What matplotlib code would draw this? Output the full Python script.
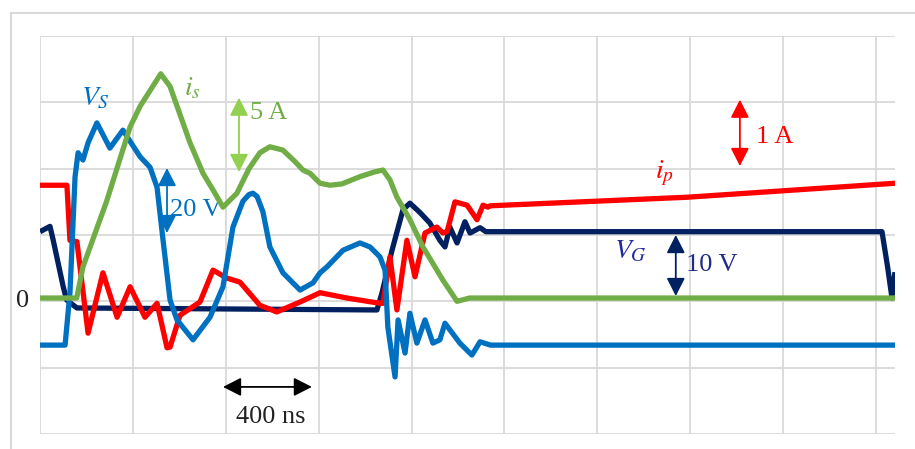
import matplotlib.pyplot as plt
from matplotlib.lines import Line2D

# time in ns, amplitude in screen divisions (0 = zero line)
t_is = [0, 108, 158, 185, 287, 388, 431, 520, 560, 646, 702, 750, 788, 848,
        900, 947, 990, 1046, 1100, 1132, 1163, 1206, 1249, 1300, 1378, 1440,
        1477, 1507, 1537, 1593, 1649, 1735, 1796, 1850, 3682]
v_is = [0.05, 0.05, 0.05, 0.52, 1.51, 2.63, 2.94, 3.43, 3.24, 2.39, 1.93,
        1.65, 1.42, 1.63, 2.00, 2.24, 2.33, 2.28, 2.10, 1.98, 1.93, 1.78,
        1.75, 1.77, 1.88, 1.95, 1.98, 1.83, 1.57, 1.23, 0.82, 0.32, 0.0,
        0.05, 0.05]

t_ip = [0, 116, 129, 159, 207, 271, 332, 388, 452, 504, 547, 560, 603, 689,
        745, 805, 861, 947, 1020, 1120, 1206, 1322, 1464, 1477, 1507, 1537,
        1580, 1615, 1658, 1709, 1735, 1753, 1787, 1839, 1882, 1908, 1929,
        1938, 2790, 3682]
v_ip = [1.75, 1.75, 0.92, 0.90, -0.48, 0.43, -0.24, 0.22, -0.24, -0.03,
        -0.70, -0.69, -0.21, -0.01, 0.47, 0.35, 0.29, -0.06, -0.16, -0.01,
        0.13, 0.05, -0.03, -0.03, 0.67, -0.13, 0.92, 0.37, 1.03, 1.12, 1.03,
        1.05, 1.50, 1.45, 1.23, 1.45, 1.42, 1.44, 1.57, 1.78]

t_vg = [0, 43, 57, 100, 115, 159, 1451, 1473, 1516, 1563, 1593, 1636, 1679,
        1722, 1744, 1765, 1796, 1830, 1852, 1895, 1920, 3626, 3651, 3669,
        3682]
v_vg = [1.05, 1.13, 0.92, 0.22, 0.02, -0.10, -0.13, 0.13, 0.77, 1.38,
        1.48, 1.34, 1.18, 0.92, 0.82, 1.12, 0.88, 1.20, 1.03, 1.11, 1.05,
        1.05, 0.50, 0.05, 0.44]

t_vs = [0, 108, 129, 151, 164, 185, 207, 245, 301, 357, 431, 474, 504, 530,
        560, 590, 659, 732, 788, 831, 874, 900, 917, 935, 960, 990, 1046,
        1120, 1176, 1206, 1236, 1305, 1378, 1421, 1464, 1486, 1498, 1529,
        1542, 1572, 1593, 1623, 1658, 1692, 1722, 1744, 1808, 1860, 1895,
        1940, 3682]
v_vs = [-0.66, -0.66, 0.13, 1.88, 2.24, 2.13, 2.39, 2.69, 2.31, 2.58, 2.18,
        2.02, 1.72, 0.92, 0.02, -0.28, -0.58, -0.24, 0.22, 1.12, 1.51, 1.61,
        1.63, 1.58, 1.35, 0.82, 0.43, 0.17, 0.28, 0.43, 0.52, 0.77, 0.88,
        0.82, 0.67, 0.47, -0.39, -1.14, -0.28, -0.78, -0.18, -0.63, -0.28,
        -0.63, -0.58, -0.33, -0.63, -0.81, -0.61, -0.66, -0.66]

GREEN = '#70ad47'
RED = '#ff0000'
BLUE = '#0070c0'
NAVY = '#002060'

plt.rcParams['mathtext.fontset'] = 'stix'
serif = 'Liberation Serif'

fig = plt.figure(figsize=(9.15, 4.49), dpi=100)
# outer frame (top and left edges visible)
fig.add_artist(Line2D([11 / 915, 1], [1 - 13 / 449] * 2, color='#d9d9d9', lw=1.5))
fig.add_artist(Line2D([11 / 915] * 2, [0, 1 - 13 / 449], color='#d9d9d9', lw=1.5))

ax = fig.add_axes([40 / 915, 1 - 434 / 449, 855 / 915, 398 / 449])
ax.set_xlim(0, 3682)
ax.set_ylim(-2, 4)
ax.set_xticks(range(0, 3601, 400))
ax.set_yticks(range(-2, 5))
ax.tick_params(length=0, labelbottom=False, labelleft=False)
ax.grid(True, color='#d9d9d9', lw=1.3)
ax.set_axisbelow(True)
for s in ax.spines.values():
    s.set_visible(False)

lw = 3.8
style = dict(lw=lw, solid_joinstyle='round', solid_capstyle='butt')
ax.plot(t_vg, v_vg, color=NAVY, zorder=2, **style)
ax.plot(t_ip, v_ip, color=RED, zorder=3, **style)
ax.plot(t_vs, v_vs, color=BLUE, zorder=4, **style)
ax.plot(t_is, v_is, color=GREEN, zorder=5, **style)


def scale_arrow(x, y0, y1, color):
    ax.annotate('', xy=(x, y1), xytext=(x, y0),
                arrowprops=dict(arrowstyle='<|-|>,head_length=0.55,head_width=0.28',
                                mutation_scale=20, color=color, lw=1.3,
                                shrinkA=0, shrinkB=0), zorder=6)


scale_arrow(857, 1.95, 3.07, '#92d050')
ax.text(905, 2.84, '5 A', color=GREEN, fontsize=19, family=serif, va='center')

scale_arrow(547, 1.03, 2.01, BLUE)
ax.text(560, 1.37, '20 V', color=BLUE, fontsize=19, family=serif, va='center')

scale_arrow(3014, 2.04, 3.04, RED)
ax.text(3085, 2.48, '1 A', color=RED, fontsize=19, family=serif, va='center')

scale_arrow(2738, 0.08, 1.0, NAVY)
ax.text(2784, 0.55, '10 V', color='#1f2a8a', fontsize=19, family=serif, va='center')

ax.annotate('', xy=(1171, -1.29), xytext=(788, -1.29),
            arrowprops=dict(arrowstyle='<|-|>,head_length=0.55,head_width=0.28',
                            mutation_scale=20, color='black', lw=1.3,
                            shrinkA=0, shrinkB=0))
ax.text(995, -1.75, '400 ns', color='#222222', fontsize=19, family=serif,
        ha='center', va='center')

ax.text(237, 3.08, '$V_S$', color=BLUE, fontsize=20, ha='center', va='center')
ax.text(655, 3.22, '$i_s$', color=GREEN, fontsize=20, ha='center', va='center')
ax.text(2691, 1.93, '$i_p$', color=RED, fontsize=20, ha='center', va='center')
ax.text(2545, 0.77, '$V_G$', color='#1f2a9a', fontsize=20, ha='center', va='center')
ax.text(-73, 0.0, '0', color='#222222', fontsize=19, family=serif,
        ha='center', va='center', clip_on=False)

fig.savefig('out.png', dpi=100)
